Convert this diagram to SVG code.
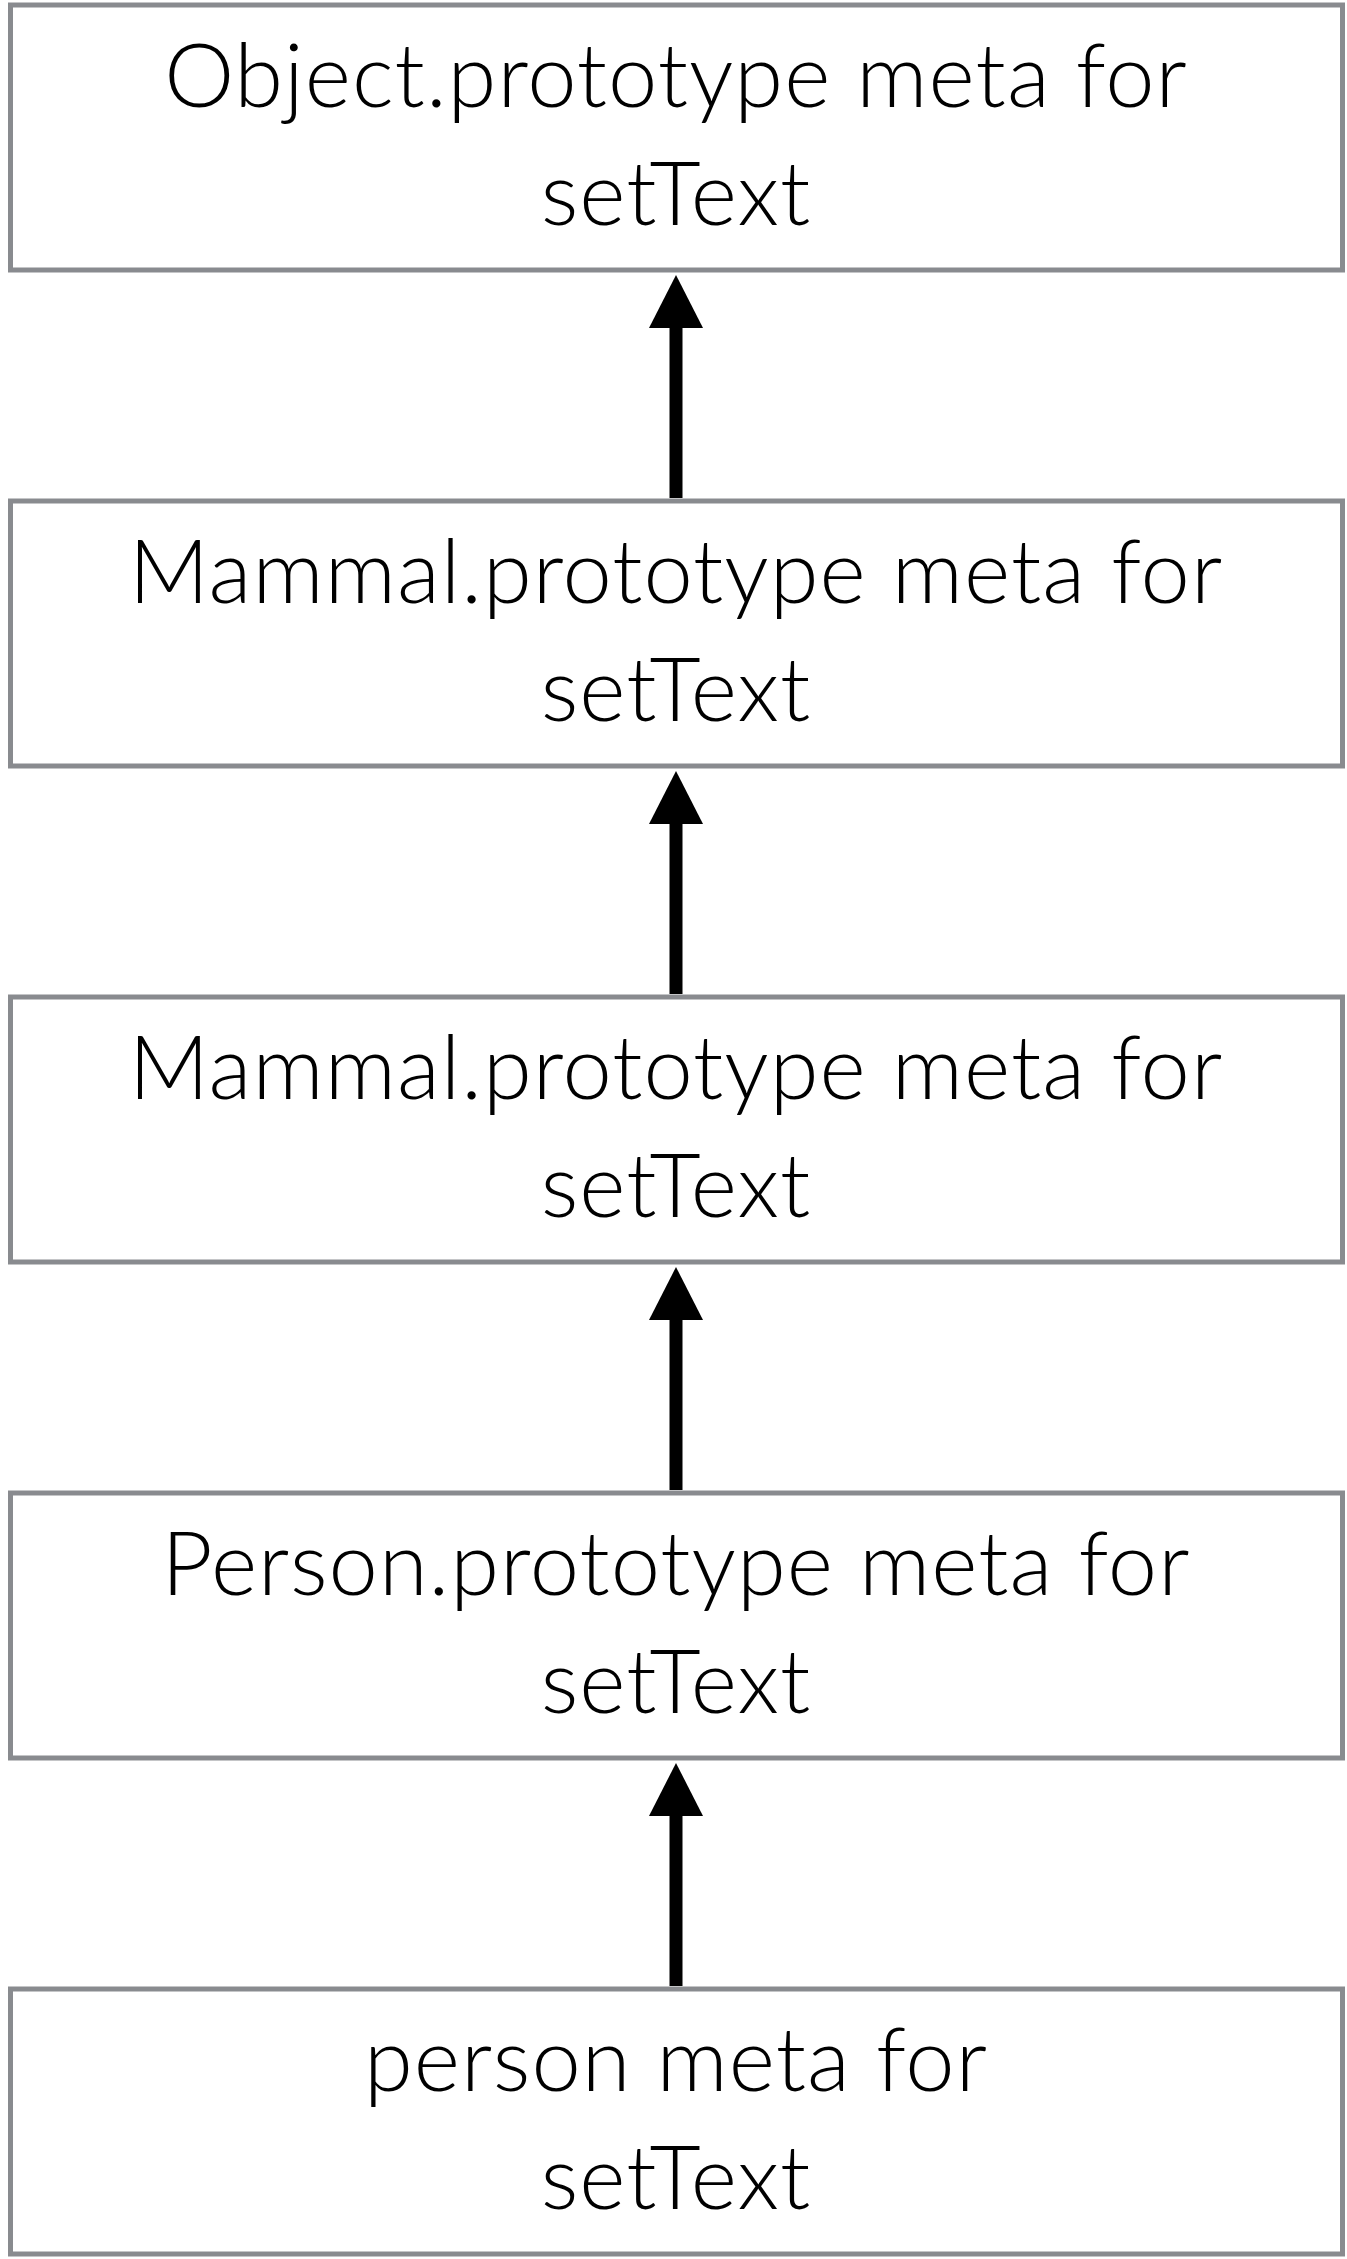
<svg xmlns="http://www.w3.org/2000/svg" width="1347" height="2259" viewBox="0 0 1347 2259">
<defs>
<style>
.box{fill:#ffffff;stroke:#898b8f;stroke-width:5}
.lbl{font-family:Lato,"Noto Sans","DejaVu Sans",sans-serif;font-size:88.5px;font-weight:300;letter-spacing:1px;fill:#000;text-anchor:middle}
.shaft{stroke:#000;stroke-width:13;fill:none}
.head{fill:#000}
</style>
</defs>
<rect width="1347" height="2259" fill="#ffffff"/>
<g id="connectors">
<line class="shaft" x1="676" y1="498" x2="676" y2="326"/><polygon class="head" points="676,275 703,328 649,328"/>
<line class="shaft" x1="676" y1="994" x2="676" y2="822"/><polygon class="head" points="676,771 703,824 649,824"/>
<line class="shaft" x1="676" y1="1490" x2="676" y2="1318"/><polygon class="head" points="676,1267 703,1320 649,1320"/>
<line class="shaft" x1="676" y1="1986" x2="676" y2="1814"/><polygon class="head" points="676,1763 703,1816 649,1816"/>
</g>
<g id="node1"><rect class="box" x="10.5" y="5" width="1332" height="265"/><text class="lbl" x="676" y="107">Object.prototype meta for</text><text class="lbl" x="676" y="225">setText</text></g>
<g id="node2"><rect class="box" x="10.5" y="501" width="1332" height="265"/><text class="lbl" x="676" y="603">Mammal.prototype meta for</text><text class="lbl" x="676" y="721">setText</text></g>
<g id="node3"><rect class="box" x="10.5" y="997" width="1332" height="265"/><text class="lbl" x="676" y="1099">Mammal.prototype meta for</text><text class="lbl" x="676" y="1217">setText</text></g>
<g id="node4"><rect class="box" x="10.5" y="1493" width="1332" height="265"/><text class="lbl" x="676" y="1595">Person.prototype meta for</text><text class="lbl" x="676" y="1713">setText</text></g>
<g id="node5"><rect class="box" x="10.5" y="1989" width="1332" height="265"/><text class="lbl" x="676" y="2091">person meta for</text><text class="lbl" x="676" y="2209">setText</text></g>
</svg>
